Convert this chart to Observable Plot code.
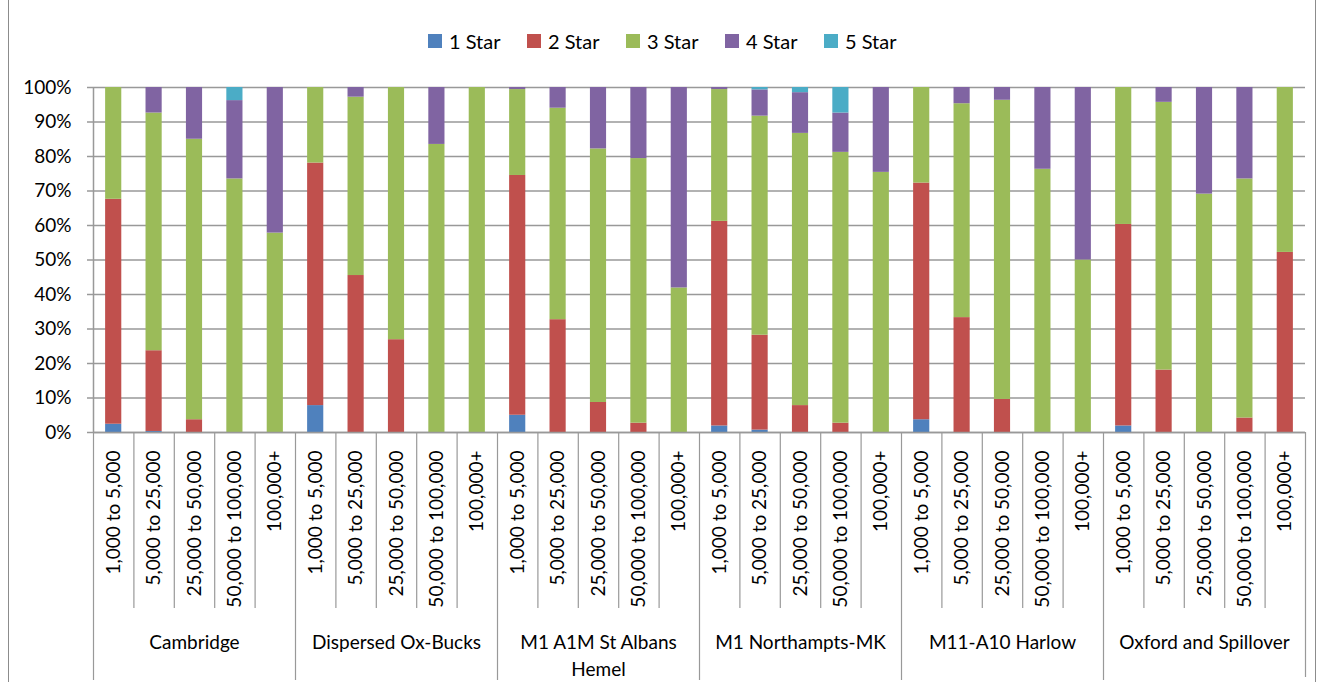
<!DOCTYPE html>
<html><head><meta charset="utf-8">
<script src="https://cdn.jsdelivr.net/npm/d3@7"></script>
<script src="https://cdn.jsdelivr.net/npm/@observablehq/plot@0.6"></script>
<style>
body{margin:0;background:#fff;font-family:Lato,sans-serif;}
#wrap{position:relative;width:1317px;height:682px;overflow:hidden;background:#fff;}
#border{position:absolute;left:8px;top:-2px;width:1308px;height:700px;border:1px solid #8c8c8c;box-sizing:border-box;}
#legend{position:absolute;left:0;top:0;height:70px;width:1317px;}
.item{position:absolute;top:28px;height:26px;display:flex;align-items:center;font-size:20px;color:#000;white-space:nowrap;}
.sw{width:14px;height:14px;margin-right:7px;}
#chart{position:absolute;left:0;top:70px;}
</style></head>
<body>
<div id="wrap"><div id="border"></div><div id="legend"></div><div id="chart"></div></div>
<script>
const regions = ["Cambridge","Dispersed Ox-Bucks","M1 A1M St Albans Hemel","M1 Northampts-MK","M11-A10 Harlow","Oxford and Spillover"];
const groupLabels = ["Cambridge","Dispersed Ox-Bucks","M1 A1M St Albans\nHemel","M1 Northampts-MK","M11-A10 Harlow","Oxford and Spillover"];
const bands = ["1,000 to 5,000","5,000 to 25,000","25,000 to 50,000","50,000 to 100,000","100,000+"];
const stars = ["1 Star","2 Star","3 Star","4 Star","5 Star"];
const colors = ["#4F81BD","#C0504D","#9BBB59","#8064A2","#4BACC6"];
// percentages, 30 bars: region-major, band-minor
const star1 = [2.4,0.3,0,0,0, 7.8,0,0,0,0, 5.0,0,0,0,0, 1.9,0.7,0,0,0, 3.7,0,0,0,0, 1.9,0,0,0,0];
const star2 = [65.2,23.4,3.7,0,0, 70.3,45.5,26.9,0,0, 69.5,32.7,8.7,2.7,0, 59.3,27.5,7.8,2.7,0, 68.6,33.3,9.6,0,0, 58.4,18.1,0,4.2,52.2];
const star3 = [32.4,68.9,81.3,73.5,57.8, 21.9,51.7,73.1,83.5,100, 24.9,61.3,73.5,76.7,41.9, 38.2,63.5,78.9,78.5,75.4, 27.7,62.0,86.7,76.3,50.0, 39.7,77.6,69.1,69.3,47.8];
const star4 = [0,7.4,15.0,22.7,42.2, 0,2.8,0,16.5,0, 0.6,6.0,17.8,20.6,58.1, 0.6,7.6,11.8,11.4,24.6, 0,4.7,3.7,23.7,50.0, 0,4.3,30.9,26.5,0];
const star5 = [0,0,0,3.8,0, 0,0,0,0,0, 0,0,0,0,0, 0,0.7,1.5,7.4,0, 0,0,0,0,0, 0,0,0,0,0];
const yTicks = [0,0.1,0.2,0.3,0.4,0.5,0.6,0.7,0.8,0.9,1];

const keys = regions.flatMap(r => bands.map(b => r + "|" + b));
const series = [star1, star2, star3, star4, star5];
const rows = keys.flatMap((k, i) => stars.map((s, j) => ({key: k, star: s, value: series[j][i] / 100})));

// legend
const legend = document.getElementById("legend");
stars.forEach((s, i) => {
  const it = document.createElement("div");
  it.className = "item";
  it.style.left = (428 + i * 99) + "px";
  it.innerHTML = `<div class="sw" style="background:${colors[i]}"></div><span>${s}</span>`;
  legend.appendChild(it);
});

const W = 1317, H = 612, mL = 93, mR = 12, mT = 17, mB = 250;
const step = (W - mL - mR) / keys.length;
const grid = "#999";

const chart = Plot.plot({
  width: W, height: H,
  marginLeft: mL, marginRight: mR, marginTop: mT, marginBottom: mB,
  style: {fontFamily: "Lato, sans-serif", fontSize: "19px", color: "#000", background: "transparent", overflow: "visible"},
  x: {domain: keys, paddingInner: 0.6, paddingOuter: 0.3, round: false, axis: null},
  y: {domain: [0, 1], axis: null},
  color: {domain: stars, range: colors},
  marks: [
    Plot.gridY(yTicks, {stroke: grid, strokeOpacity: 1, strokeWidth: 1.5}),
    Plot.barY(rows, Plot.stackY({x: "key", y: "value", fill: "star", order: stars})),
    Plot.ruleY([0], {stroke: grid, strokeWidth: 1.5}),
    Plot.ruleX([keys[0]], {dx: -step / 2, stroke: grid, strokeWidth: 1.5}),
    Plot.axisY(yTicks, {label: null, tickFormat: d3.format(".0%"), tickSize: 6, tickPadding: 16, stroke: grid, strokeWidth: 1.5, fontSize: 19}),
    Plot.axisX(keys, {label: null, tickSize: 0, tickRotate: -90, tickPadding: 18, fontSize: 19, tickFormat: k => k.split("|")[1]}),
    Plot.axisX(keys.filter((k, i) => i % 5 !== 0), {label: null, tickSize: 176, text: null, dx: -step / 2, stroke: grid, strokeWidth: 1.2}),
    Plot.axisX(keys.filter((k, i) => i % 5 === 0), {label: null, tickSize: 248, text: null, dx: -step / 2, stroke: grid, strokeWidth: 1.2}),
    Plot.axisX([keys[keys.length - 1]], {label: null, tickSize: 245, text: null, dx: step / 2, stroke: grid, strokeWidth: 1.2}),
    Plot.text(regions, {x: r => r + "|" + bands[2], y: 0, text: (r, i) => groupLabels[i], dy: 198, lineAnchor: "top", lineHeight: 1.4, fontSize: 19, fill: "#000"})
  ]
});
document.getElementById("chart").appendChild(chart);
</script>
</body></html>
